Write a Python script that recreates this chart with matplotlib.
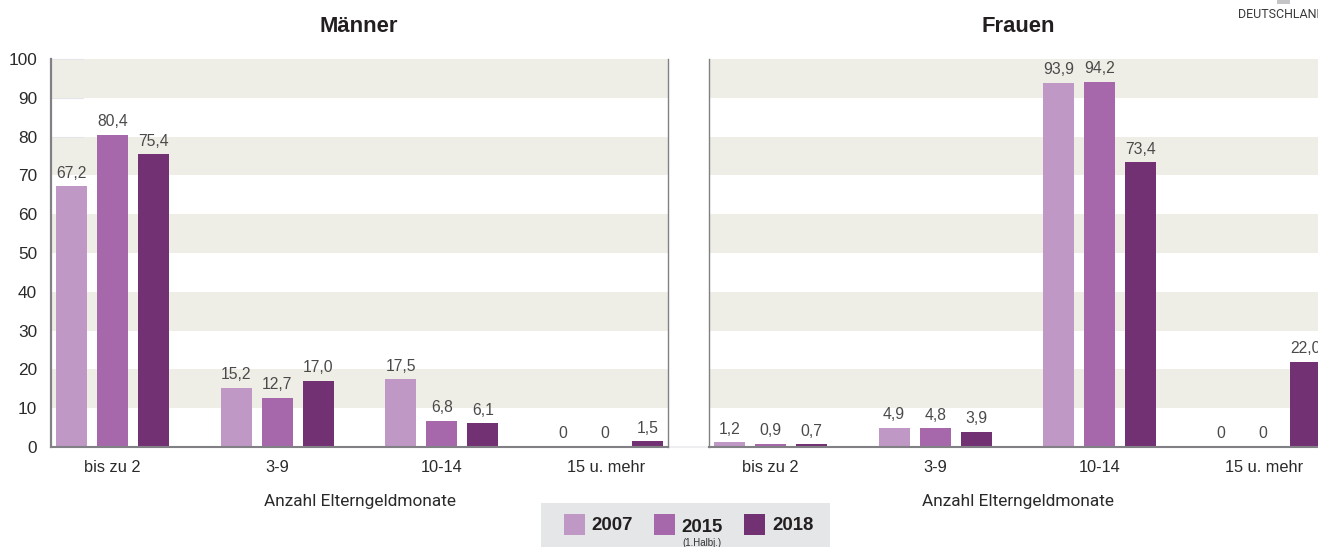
#Elterngeldmonate nach Geschlecht
import matplotlib
matplotlib.use('Agg')
import matplotlib.pyplot as plt
from matplotlib.lines import Line2D
from matplotlib.patches import Rectangle

plt.rcParams['font.family'] = ['Liberation Sans', 'DejaVu Sans']

kategorien = ['bis zu 2', '3-9', '10-14', '15 u. mehr']
jahre = ['2007', '2015', '2018']
farben = ['#BF98C6', '#A668AB', '#723172']

maenner = [[67.2, 15.2, 17.5, 0],
           [80.4, 12.7, 6.8, 0],
           [75.4, 17.0, 6.1, 1.5]]
frauen = [[1.2, 4.9, 93.9, 0],
          [0.9, 4.8, 94.2, 0],
          [0.7, 3.9, 73.4, 22.0]]

B, H = 1318, 547
achse = '#808085'
streifen = '#EFEEE6'
text_dunkel = '#2B2A2B'
text_wert = '#4A4A4A'


def wert_text(v):
    if v == 0:
        return '0'
    return f'{v:.1f}'.replace('.', ',')


def panel(links, werte, titel, titel_x):
    ax = fig.add_axes([links / B, (H - 447) / H, 617 / B, 388 / H])
    ax.set_xlim(-0.374, 3.374)
    ax.set_ylim(0, 100)

    # Streifen im Hintergrund
    for u in range(10, 100, 20):
        ax.axhspan(u, u + 10, color=streifen, lw=0, zorder=0)

    for i, reihe in enumerate(werte):
        pos = [k + (i - 1) * 0.2495 for k in range(len(kategorien))]
        ax.bar(pos, reihe, width=0.188, color=farben[i], zorder=2)
        for p, v in zip(pos, reihe):
            dx = -1.5 if v == 0 else 0
            ax.annotate(wert_text(v), (p, v), xytext=(dx, 4), textcoords='offset points',
                        ha='center', va='bottom', fontsize=11.3, color=text_wert,
                        annotation_clip=False, zorder=3)

    ax.set_xticks(range(len(kategorien)))
    ax.set_xticklabels(kategorien, fontsize=11.8, color=text_dunkel)
    ax.tick_params(axis='x', length=0, pad=9)
    ax.set_xlabel('Anzahl Elterngeldmonate', fontsize=12.4, color=text_dunkel, labelpad=14,
                  family=['Roboto', 'DejaVu Sans'])

    ax.spines['top'].set_visible(False)
    ax.spines['right'].set_visible(False)
    ax.spines['left'].set_color(achse)
    ax.spines['left'].set_linewidth(1.0)
    ax.spines['bottom'].set_color(achse)
    ax.spines['bottom'].set_linewidth(1.5)
    ax.set_zorder(2)
    fig.text(titel_x / B, (H - 26) / H, titel, fontsize=15.8, fontweight='bold',
             color='#231F20', ha='center', va='center')
    return ax


fig = plt.figure(figsize=(B / 100, H / 100), dpi=100, facecolor='white')

ax1 = panel(51, maenner, 'Männer', 359)
ax1.set_yticks(range(0, 101, 10))
ax1.tick_params(axis='y', length=0, pad=10, labelsize=12.4, labelcolor=text_dunkel)
ax1.spines['left'].set_linewidth(1.6)
# rechte Kante des linken Teils
ax1.spines['right'].set_visible(True)
ax1.spines['right'].set_color(achse)
ax1.spines['right'].set_linewidth(1.0)
# kurze helle Striche an der y-Achse
for u in [100, 90, 80]:
    ax1.plot([-0.374, -0.18], [u, u], color='#E4E5E9', lw=0.8, zorder=1, clip_on=False)

ax2 = panel(709, frauen, 'Frauen', 1018)
ax2.set_yticks([])

# heller Strich zwischen den beiden Teilen
fig.add_artist(Line2D([668 / B, 709 / B], [(H - 447) / H] * 2, color='#EEEEF0', lw=1.5))

# Legende
fig.patches.append(Rectangle((541 / B, 0), 289 / B, 44 / H, transform=fig.transFigure,
                             facecolor='#E5E6E8', edgecolor='none'))
for x, jahr, farbe in zip([564, 654, 744], jahre, farben):
    fig.patches.append(Rectangle((x / B, (H - 535) / H), 21 / B, 21 / H,
                                 transform=fig.transFigure, facecolor=farbe, edgecolor='none'))
for x, jahr, y in zip([612, 702, 793], jahre, [525, 527, 525]):
    fig.text(x / B, (H - y) / H, jahr, fontsize=13.4, fontweight='bold', color='#231F20',
             ha='center', va='center')
fig.text(702 / B, (H - 543) / H, '(1.Halbj.)', fontsize=7, color='#333333',
         ha='center', va='center')

# Rest der Karte und Beschriftung oben rechts, am Rand abgeschnitten
fig.patches.append(Rectangle((1277 / B, (H - 4) / H), 13 / B, 4 / H, transform=fig.transFigure,
                             facecolor='#C4C4C6', edgecolor='none'))
fig.text(1238 / B, (H - 15) / H, 'DEUTSCHLAND', fontsize=9, color='#3A3A3A',
         family=['Roboto', 'DejaVu Sans'], ha='left', va='center')

fig.savefig('out.png', dpi=100)
